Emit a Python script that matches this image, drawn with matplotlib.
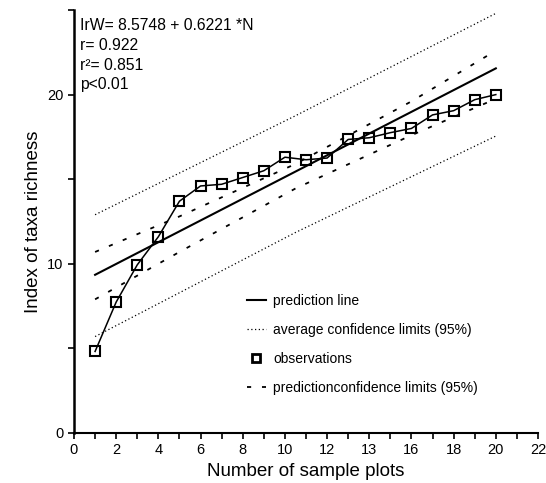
import matplotlib
matplotlib.use("Agg")
from matplotlib import pyplot as plt
import numpy as np

plt.rcParams['font.family'] = ['Liberation Sans', 'DejaVu Sans']

# observations (sample plots vs index of taxa richness)
plots = np.arange(1, 21)
richness = [4.82, 7.74, 9.94, 11.6, 13.7, 14.6, 14.7, 15.1, 15.5, 16.3,
            16.15, 16.25, 17.35, 17.45, 17.75, 18.0, 18.8, 19.05, 19.7, 20.0]

# regression line (end points)
line_x = [1, 20]
line_y = [9.35, 21.55]

# wide dotted limits
dot_x = [1, 10.5, 20]
dot_up = [12.9, 18.75, 24.8]
dot_lo = [5.7, 11.85, 17.55]

# narrow dashed limits
dash_x = [1, 5, 10.5, 16, 20]
dash_up = [10.7, 12.8, 15.9, 19.6, 22.6]
dash_lo = [7.9, 10.7, 14.45, 17.6, 19.75]

xticks = np.arange(0, 23, 2)
xlabels = ['0', '2', '4', '6', '8', '10', '12', '13', '16', '18', '20', '22']
yticks = [0, 5, 10, 15, 20, 25]
ylabels = ['0', '', '10', '', '20', '']

fig = plt.figure(figsize=(5.46, 4.83), dpi=100)
ax = fig.add_axes([74/546, 50/483, 464/546, 423/483])

ax.plot(line_x, line_y, color='black', lw=1.5, label='prediction line')
ax.plot(dot_x, dot_up, color='black', lw=0.9, linestyle=(0, (1, 2)),
        label='average confidence limits (95%)')
ax.plot(dot_x, dot_lo, color='black', lw=0.9, linestyle=(0, (1, 2)))
ax.plot(plots, richness, color='black', lw=1.1, marker='s', markersize=7.2,
        markerfacecolor='none', markeredgewidth=1.5)
ax.plot([], [], linestyle='none', marker='s', markersize=6, color='black',
        markerfacecolor='none', markeredgewidth=2, label='observations')
ax.plot(dash_x, dash_up, color='black', lw=1.3, linestyle=(0, (2.3, 6)),
        label='predictionconfidence limits (95%)')
ax.plot(dash_x, dash_lo, color='black', lw=1.3, linestyle=(0, (2.3, 6)))

ax.set_xlim(0, 22)
ax.set_ylim(0, 25)
ax.set_xticks(np.arange(0, 23, 1), minor=True)
ax.set_xticks(xticks)
ax.set_xticklabels(xlabels)
ax.set_yticks(yticks)
ax.set_yticklabels(ylabels)
ax.tick_params(which='both', direction='out', length=4, width=1.2, labelsize=10.5)
ax.spines['top'].set_visible(False)
ax.spines['right'].set_visible(False)
ax.spines['left'].set_linewidth(1.8)
ax.spines['bottom'].set_linewidth(1.5)

ax.set_xlabel('Number of sample plots', fontsize=13.5)
ax.set_ylabel('Index of taxa richness', fontsize=13.5)

stats = ['IrW= 8.5748 + 0.6221 *N', 'r= 0.922', 'r\u00b2= 0.851', 'p<0.01']
for i, s in enumerate(stats):
    fig.text(80/546, 1 - (25 + 20*i)/483, s, fontsize=11.3, va='center')

ax.legend(loc='upper left', bbox_to_anchor=(234/546, 1 - 281/483),
          bbox_transform=fig.transFigure, frameon=False, fontsize=10,
          handlelength=1.4, handletextpad=0.5, labelspacing=1.1)

fig.savefig('out.png', dpi=100)
